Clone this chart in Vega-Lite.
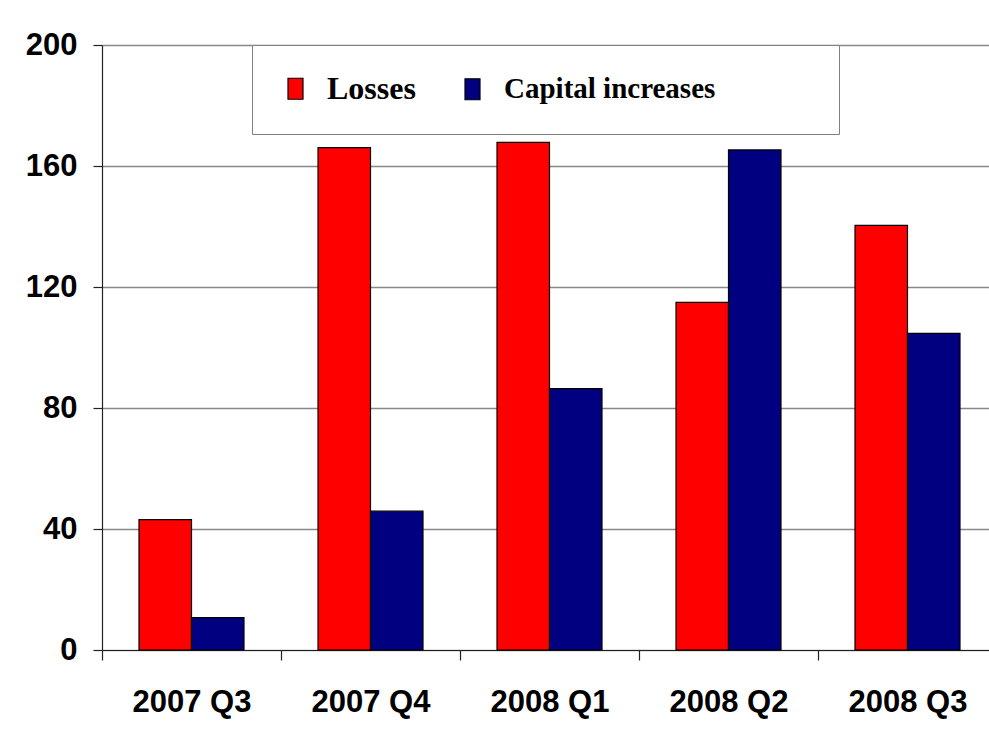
{
  "$schema": "https://vega.github.io/schema/vega-lite/v6.json",
  "width": 887,
  "height": 605,
  "autosize": {"type": "none"},
  "padding": {"left": 102, "top": 45, "right": 0, "bottom": 97},
  "background": "white",
  "data": {
    "values": [
      {"quarter": "2007 Q3", "series": "Losses", "value": 43.1},
      {"quarter": "2007 Q3", "series": "Capital increases", "value": 10.7},
      {"quarter": "2007 Q4", "series": "Losses", "value": 166.1},
      {"quarter": "2007 Q4", "series": "Capital increases", "value": 45.9},
      {"quarter": "2008 Q1", "series": "Losses", "value": 167.8},
      {"quarter": "2008 Q1", "series": "Capital increases", "value": 86.4},
      {"quarter": "2008 Q2", "series": "Losses", "value": 114.9},
      {"quarter": "2008 Q2", "series": "Capital increases", "value": 165.3},
      {"quarter": "2008 Q3", "series": "Losses", "value": 140.4},
      {"quarter": "2008 Q3", "series": "Capital increases", "value": 104.7}
    ]
  },
  "mark": {"type": "bar", "stroke": "black", "strokeWidth": 1.2},
  "encoding": {
    "x": {
      "field": "quarter",
      "type": "nominal",
      "sort": null,
      "scale": {"range": [0, 895], "paddingInner": 0, "paddingOuter": 0},
      "axis": {
        "title": null,
        "labelAngle": 0,
        "tickBand": "extent",
        "tickSize": 10,
        "tickColor": "#222",
        "tickWidth": 1.2,
        "domainColor": "#222",
        "domainWidth": 1.2,
        "labelPadding": 27,
        "labelFont": "Liberation Sans",
        "labelFontWeight": "bold",
        "labelFontSize": 31,
        "labelColor": "black",
        "grid": false
      }
    },
    "xOffset": {
      "field": "series",
      "type": "nominal",
      "sort": ["Losses", "Capital increases"],
      "scale": {"paddingInner": 0, "paddingOuter": 0.705}
    },
    "y": {
      "field": "value",
      "type": "quantitative",
      "scale": {"domain": [0, 200], "nice": false},
      "axis": {
        "title": null,
        "values": [0, 40, 80, 120, 160, 200],
        "tickSize": 9,
        "tickColor": "#222",
        "tickWidth": 1.2,
        "domainColor": "#222",
        "domainWidth": 1.2,
        "labelPadding": 16,
        "labelFont": "Liberation Sans",
        "labelFontWeight": "bold",
        "labelFontSize": 31,
        "labelColor": "black",
        "grid": true,
        "gridColor": "#888888",
        "gridWidth": 1.6
      }
    },
    "color": {
      "field": "series",
      "type": "nominal",
      "sort": ["Losses", "Capital increases"],
      "scale": {"domain": ["Losses", "Capital increases"], "range": ["#ff0000", "#000080"]},
      "legend": {
        "title": null,
        "orient": "none",
        "legendX": 150,
        "legendY": 0,
        "direction": "horizontal",
        "fillColor": "white",
        "strokeColor": "#808080",
        "padding": 29,
        "symbolOffset": 0,
        "symbolType": "M-0.714,-1L0.714,-1L0.714,1L-0.714,1Z",
        "symbolSize": 441,
        "symbolStrokeColor": "black",
        "symbolStrokeWidth": 1.2,
        "symbolOpacity": 1,
        "labelOffset": 17,
        "columnPadding": 42,
        "labelFont": "Liberation Serif",
        "labelFontWeight": "bold",
        "labelFontSize": 32,
        "labelColor": "black",
        "labelLimit": 0,
        "encode": {
          "labels": {
            "update": {
              "text": {"signal": "datum.label == 'Capital increases' ? datum.label + '\u00a0\u00a0\u00a0\u00a0\u00a0\u00a0\u00a0\u00a0\u00a0\u00a0\u00a0\u00a0\u00a0\u200b' : datum.label"},
              "fontSize": {"signal": "datum.label == 'Losses' ? 32 : 29"}
            }
          }
        }
      }
    }
  },
  "config": {"view": {"stroke": null}}
}
